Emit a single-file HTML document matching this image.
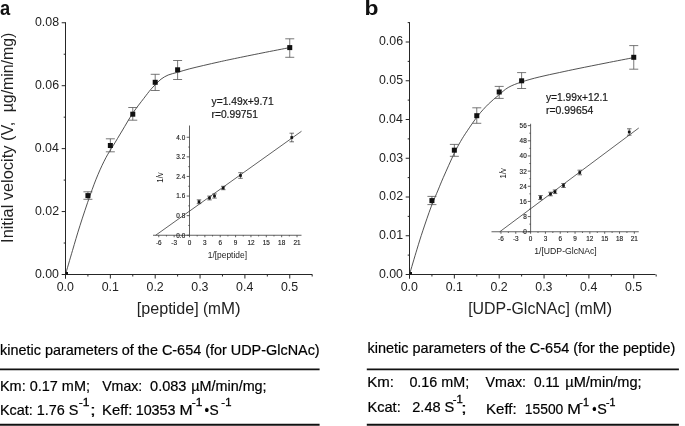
<!DOCTYPE html>
<html lang="en">
<head>
<meta charset="utf-8">
<title>Kinetic parameters of the C-654</title>
<style>
html,body{margin:0;padding:0;background:#fff;}
body{width:685px;height:426px;overflow:hidden;}
svg{display:block;font-family:"Liberation Sans",sans-serif;}
.ax{stroke:#262626;stroke-width:1;fill:none;}
.cv{stroke:#333;stroke-width:0.85;fill:none;}
.eb{stroke:#555;stroke-width:0.8;fill:none;}
.mk{fill:#111;}
.tl{font-size:13.1px;fill:#222;}
.at{font-size:15.7px;fill:#222;}
.yt{font-size:16.3px;fill:#222;}
.pl{font-size:20.3px;font-weight:bold;fill:#111;}
.eq{font-size:10.3px;fill:#1a1a1a;stroke:#1a1a1a;stroke-width:0.2;}
.ia{stroke:#3a3a3a;stroke-width:0.8;fill:none;}
.il{stroke:#383838;stroke-width:0.8;fill:none;}
.ie{stroke:#222;stroke-width:0.65;fill:none;}
.it{font-size:6.4px;fill:#222;stroke:#222;stroke-width:0.15;}
.ix{font-size:8.8px;fill:#1a1a1a;}
.iv{font-size:8.6px;fill:#1a1a1a;}
.bt{font-size:14.4px;fill:#000;stroke:#000;stroke-width:0.2;}
.sup{font-size:10.8px;fill:#000;stroke:#000;stroke-width:0.3;}
.rule{stroke:#111;stroke-width:1.9;}
</style>
</head>
<body>
<svg width="685" height="426" viewBox="0 0 685 426">
<rect x="0" y="0" width="685" height="426" fill="#ffffff"/>

<g id="panel-a">
<text class="pl" x="0.04" y="15" textLength="10.18" lengthAdjust="spacingAndGlyphs">a</text>
<line class="ax" x1="65.5" y1="22.25" x2="65.5" y2="278.5"/>
<line class="ax" x1="65" y1="274.5" x2="312.3" y2="274.5"/>
<line class="ax" x1="61.7" y1="274.5" x2="65.5" y2="274.5"/>
<text class="tl" x="34.88" y="277.8" textLength="24.08" lengthAdjust="spacingAndGlyphs">0.00</text>
<line class="ax" x1="61.7" y1="211.56" x2="65.5" y2="211.56"/>
<text class="tl" x="34.99" y="214.86" textLength="24.08" lengthAdjust="spacingAndGlyphs">0.02</text>
<line class="ax" x1="61.7" y1="148.62" x2="65.5" y2="148.62"/>
<text class="tl" x="34.76" y="151.93" textLength="24.08" lengthAdjust="spacingAndGlyphs">0.04</text>
<line class="ax" x1="61.7" y1="85.69" x2="65.5" y2="85.69"/>
<text class="tl" x="34.99" y="88.99" textLength="24.08" lengthAdjust="spacingAndGlyphs">0.06</text>
<line class="ax" x1="61.7" y1="22.75" x2="65.5" y2="22.75"/>
<text class="tl" x="34.99" y="26.05" textLength="24.08" lengthAdjust="spacingAndGlyphs">0.08</text>
<line class="ax" x1="63.7" y1="243.03" x2="65.5" y2="243.03"/>
<line class="ax" x1="63.7" y1="180.09" x2="65.5" y2="180.09"/>
<line class="ax" x1="63.7" y1="117.16" x2="65.5" y2="117.16"/>
<line class="ax" x1="63.7" y1="54.22" x2="65.5" y2="54.22"/>
<line class="ax" x1="65.5" y1="274.5" x2="65.5" y2="278.5"/>
<text class="tl" x="56.74" y="290.5" textLength="17.2" lengthAdjust="spacingAndGlyphs">0.0</text>
<line class="ax" x1="110.35" y1="274.5" x2="110.35" y2="278.5"/>
<text class="tl" x="101.64" y="290.5" textLength="17.2" lengthAdjust="spacingAndGlyphs">0.1</text>
<line class="ax" x1="155.2" y1="274.5" x2="155.2" y2="278.5"/>
<text class="tl" x="146.5" y="290.5" textLength="17.2" lengthAdjust="spacingAndGlyphs">0.2</text>
<line class="ax" x1="200.05" y1="274.5" x2="200.05" y2="278.5"/>
<text class="tl" x="191.29" y="290.5" textLength="17.2" lengthAdjust="spacingAndGlyphs">0.3</text>
<line class="ax" x1="244.9" y1="274.5" x2="244.9" y2="278.5"/>
<text class="tl" x="236.08" y="290.5" textLength="17.2" lengthAdjust="spacingAndGlyphs">0.4</text>
<line class="ax" x1="289.75" y1="274.5" x2="289.75" y2="278.5"/>
<text class="tl" x="280.99" y="290.5" textLength="17.2" lengthAdjust="spacingAndGlyphs">0.5</text>
<line class="ax" x1="87.92" y1="274.5" x2="87.92" y2="276.5"/>
<line class="ax" x1="132.78" y1="274.5" x2="132.78" y2="276.5"/>
<line class="ax" x1="177.62" y1="274.5" x2="177.62" y2="276.5"/>
<line class="ax" x1="222.47" y1="274.5" x2="222.47" y2="276.5"/>
<line class="ax" x1="267.33" y1="274.5" x2="267.33" y2="276.5"/>
<line class="ax" x1="312.18" y1="274.5" x2="312.18" y2="276.5"/>
<path class="cv" d="M65.5 274.5C66.67 270.5 70.08 258.67 72.5 250.5C74.92 242.33 77.08 234.65 80 225.5C82.92 216.35 87 204.1 90 195.6C93 187.1 95.33 180.85 98 174.5C100.67 168.15 103.45 162.33 106 157.5C108.55 152.67 110.63 149.92 113.3 145.5C115.97 141.08 118.73 136.42 122 131C125.27 125.58 129.27 118.43 132.9 113C136.53 107.57 140.87 102.27 143.8 98.4C146.73 94.53 148.6 92.07 150.5 89.8C152.4 87.53 153.45 86.57 155.2 84.8C156.95 83.03 158.83 80.83 161 79.2C163.17 77.57 165.43 76.15 168.2 75C170.97 73.85 174.08 73.32 177.6 72.3C181.12 71.28 185 70.03 189.3 68.9C193.6 67.77 198.35 66.68 203.4 65.5C208.45 64.32 214.42 62.95 219.6 61.8C224.78 60.65 227.43 60.07 234.5 58.6C241.57 57.13 252.8 54.83 262 53C271.2 51.17 285.08 48.5 289.7 47.6"/>
<line class="eb" x1="87.92" y1="191.8" x2="87.92" y2="199.3"/>
<line class="eb" x1="83.42" y1="191.8" x2="92.42" y2="191.8"/>
<line class="eb" x1="83.42" y1="199.3" x2="92.42" y2="199.3"/>
<line class="eb" x1="110.35" y1="138.8" x2="110.35" y2="151.8"/>
<line class="eb" x1="105.85" y1="138.8" x2="114.85" y2="138.8"/>
<line class="eb" x1="105.85" y1="151.8" x2="114.85" y2="151.8"/>
<line class="eb" x1="132.78" y1="107.5" x2="132.78" y2="120.2"/>
<line class="eb" x1="128.28" y1="107.5" x2="137.28" y2="107.5"/>
<line class="eb" x1="128.28" y1="120.2" x2="137.28" y2="120.2"/>
<line class="eb" x1="155.2" y1="74.3" x2="155.2" y2="90.5"/>
<line class="eb" x1="150.7" y1="74.3" x2="159.7" y2="74.3"/>
<line class="eb" x1="150.7" y1="90.5" x2="159.7" y2="90.5"/>
<line class="eb" x1="177.62" y1="60.5" x2="177.62" y2="79.5"/>
<line class="eb" x1="173.12" y1="60.5" x2="182.12" y2="60.5"/>
<line class="eb" x1="173.12" y1="79.5" x2="182.12" y2="79.5"/>
<line class="eb" x1="289.75" y1="38.8" x2="289.75" y2="57.3"/>
<line class="eb" x1="285.25" y1="38.8" x2="294.25" y2="38.8"/>
<line class="eb" x1="285.25" y1="57.3" x2="294.25" y2="57.3"/>
<rect class="mk" x="85.42" y="193.1" width="5" height="5"/>
<rect class="mk" x="107.85" y="143" width="5" height="5"/>
<rect class="mk" x="130.28" y="111.7" width="5" height="5"/>
<rect class="mk" x="152.7" y="79.8" width="5" height="5"/>
<rect class="mk" x="175.12" y="67.3" width="5" height="5"/>
<rect class="mk" x="287.25" y="45.1" width="5" height="5"/>
<rect class="mk" x="65.5" y="272" width="2.5" height="2.5"/>
<text class="at" x="136.74" y="314.3" textLength="61.88" lengthAdjust="spacingAndGlyphs">[peptide]</text>
<text class="at" x="202.92" y="314.3" textLength="18.02" lengthAdjust="spacingAndGlyphs">(m</text>
<text class="at" x="220.96" y="314.3" textLength="19.63" lengthAdjust="spacingAndGlyphs">M)</text>
<text class="yt" transform="translate(13.3 242.91) rotate(-90)" textLength="121.25" lengthAdjust="spacingAndGlyphs">Initial velocity (V,</text>
<text class="yt" transform="translate(13.3 112.29) rotate(-90)" textLength="79.58" lengthAdjust="spacingAndGlyphs">µg/min/mg)</text>
<text class="eq" x="211.5" y="104.8" textLength="62.3" lengthAdjust="spacingAndGlyphs">y=1.49x+9.71</text>
<text class="eq" x="211.5" y="118" textLength="46.5" lengthAdjust="spacingAndGlyphs">r=0.99751</text>
<line class="ia" x1="189.5" y1="125.5" x2="189.5" y2="235.25"/>
<line class="ia" x1="153" y1="235.25" x2="301.5" y2="235.25"/>
<line class="ia" x1="186.7" y1="235.25" x2="189.5" y2="235.25"/>
<text class="it" x="185.2" y="237.65" text-anchor="end">0.0</text>
<line class="ia" x1="186.7" y1="215.65" x2="189.5" y2="215.65"/>
<text class="it" x="185.2" y="218.05" text-anchor="end">0.8</text>
<line class="ia" x1="186.7" y1="196.05" x2="189.5" y2="196.05"/>
<text class="it" x="185.2" y="198.45" text-anchor="end">1.6</text>
<line class="ia" x1="186.7" y1="176.45" x2="189.5" y2="176.45"/>
<text class="it" x="185.2" y="178.85" text-anchor="end">2.4</text>
<line class="ia" x1="186.7" y1="156.85" x2="189.5" y2="156.85"/>
<text class="it" x="185.2" y="159.25" text-anchor="end">3.2</text>
<line class="ia" x1="186.7" y1="137.25" x2="189.5" y2="137.25"/>
<text class="it" x="185.2" y="139.65" text-anchor="end">4.0</text>
<line class="ia" x1="188.3" y1="225.45" x2="189.5" y2="225.45"/>
<line class="ia" x1="188.3" y1="205.85" x2="189.5" y2="205.85"/>
<line class="ia" x1="188.3" y1="186.25" x2="189.5" y2="186.25"/>
<line class="ia" x1="188.3" y1="166.65" x2="189.5" y2="166.65"/>
<line class="ia" x1="188.3" y1="147.05" x2="189.5" y2="147.05"/>
<line class="ia" x1="158.78" y1="235.25" x2="158.78" y2="237.25"/>
<text class="it" x="158.78" y="244.95" text-anchor="middle">-6</text>
<line class="ia" x1="174.14" y1="235.25" x2="174.14" y2="237.25"/>
<text class="it" x="174.14" y="244.95" text-anchor="middle">-3</text>
<line class="ia" x1="189.5" y1="235.25" x2="189.5" y2="237.25"/>
<text class="it" x="189.5" y="244.95" text-anchor="middle">0</text>
<line class="ia" x1="204.86" y1="235.25" x2="204.86" y2="237.25"/>
<text class="it" x="204.86" y="244.95" text-anchor="middle">3</text>
<line class="ia" x1="220.22" y1="235.25" x2="220.22" y2="237.25"/>
<text class="it" x="220.22" y="244.95" text-anchor="middle">6</text>
<line class="ia" x1="235.58" y1="235.25" x2="235.58" y2="237.25"/>
<text class="it" x="235.58" y="244.95" text-anchor="middle">9</text>
<line class="ia" x1="250.94" y1="235.25" x2="250.94" y2="237.25"/>
<text class="it" x="250.94" y="244.95" text-anchor="middle">12</text>
<line class="ia" x1="266.3" y1="235.25" x2="266.3" y2="237.25"/>
<text class="it" x="266.3" y="244.95" text-anchor="middle">15</text>
<line class="ia" x1="281.66" y1="235.25" x2="281.66" y2="237.25"/>
<text class="it" x="281.66" y="244.95" text-anchor="middle">18</text>
<line class="ia" x1="297.02" y1="235.25" x2="297.02" y2="237.25"/>
<text class="it" x="297.02" y="244.95" text-anchor="middle">21</text>
<line class="ia" x1="166.46" y1="235.25" x2="166.46" y2="236.45"/>
<line class="ia" x1="181.82" y1="235.25" x2="181.82" y2="236.45"/>
<line class="ia" x1="197.18" y1="235.25" x2="197.18" y2="236.45"/>
<line class="ia" x1="212.54" y1="235.25" x2="212.54" y2="236.45"/>
<line class="ia" x1="227.9" y1="235.25" x2="227.9" y2="236.45"/>
<line class="ia" x1="243.26" y1="235.25" x2="243.26" y2="236.45"/>
<line class="ia" x1="258.62" y1="235.25" x2="258.62" y2="236.45"/>
<line class="ia" x1="273.98" y1="235.25" x2="273.98" y2="236.45"/>
<line class="ia" x1="289.34" y1="235.25" x2="289.34" y2="236.45"/>
<line class="il" x1="155.7" y1="235.25" x2="301.5" y2="131.25"/>
<line class="ie" x1="199" y1="199.85" x2="199" y2="203.65"/>
<line class="ie" x1="196.75" y1="199.85" x2="201.25" y2="199.85"/>
<line class="ie" x1="196.75" y1="203.65" x2="201.25" y2="203.65"/>
<rect class="mk" x="197.65" y="200.4" width="2.7" height="2.7"/>
<line class="ie" x1="209.5" y1="196.1" x2="209.5" y2="199.9"/>
<line class="ie" x1="207.25" y1="196.1" x2="211.75" y2="196.1"/>
<line class="ie" x1="207.25" y1="199.9" x2="211.75" y2="199.9"/>
<rect class="mk" x="208.15" y="196.65" width="2.7" height="2.7"/>
<line class="ie" x1="214.5" y1="193.9" x2="214.5" y2="198.1"/>
<line class="ie" x1="212.25" y1="193.9" x2="216.75" y2="193.9"/>
<line class="ie" x1="212.25" y1="198.1" x2="216.75" y2="198.1"/>
<rect class="mk" x="213.15" y="194.65" width="2.7" height="2.7"/>
<line class="ie" x1="223.25" y1="186.3" x2="223.25" y2="189.7"/>
<line class="ie" x1="221" y1="186.3" x2="225.5" y2="186.3"/>
<line class="ie" x1="221" y1="189.7" x2="225.5" y2="189.7"/>
<rect class="mk" x="221.9" y="186.65" width="2.7" height="2.7"/>
<line class="ie" x1="240.5" y1="172.7" x2="240.5" y2="178.3"/>
<line class="ie" x1="238.25" y1="172.7" x2="242.75" y2="172.7"/>
<line class="ie" x1="238.25" y1="178.3" x2="242.75" y2="178.3"/>
<rect class="mk" x="239.15" y="174.15" width="2.7" height="2.7"/>
<line class="ie" x1="291.75" y1="133.2" x2="291.75" y2="141.8"/>
<line class="ie" x1="289.5" y1="133.2" x2="294" y2="133.2"/>
<line class="ie" x1="289.5" y1="141.8" x2="294" y2="141.8"/>
<rect class="mk" x="290.4" y="136.15" width="2.7" height="2.7"/>
<text class="ix" x="207.75" y="258" textLength="39.25" lengthAdjust="spacingAndGlyphs">1/[peptide]</text>
<text class="iv" transform="translate(163.2 177.5) rotate(-90)" text-anchor="middle" textLength="10.4" lengthAdjust="spacingAndGlyphs">1/v</text>
</g>
<g id="panel-b">
<text class="pl" x="364.45" y="15.1" textLength="13.95" lengthAdjust="spacingAndGlyphs">b</text>
<line class="ax" x1="409.5" y1="22.12" x2="409.5" y2="278.5"/>
<line class="ax" x1="409" y1="274.5" x2="655.5" y2="274.5"/>
<line class="ax" x1="405.7" y1="274.5" x2="409.5" y2="274.5"/>
<text class="tl" x="378.88" y="277.8" textLength="24.08" lengthAdjust="spacingAndGlyphs">0.00</text>
<line class="ax" x1="405.7" y1="235.75" x2="409.5" y2="235.75"/>
<text class="tl" x="378.99" y="239.05" textLength="24.08" lengthAdjust="spacingAndGlyphs">0.01</text>
<line class="ax" x1="405.7" y1="197" x2="409.5" y2="197"/>
<text class="tl" x="378.99" y="200.3" textLength="24.08" lengthAdjust="spacingAndGlyphs">0.02</text>
<line class="ax" x1="405.7" y1="158.25" x2="409.5" y2="158.25"/>
<text class="tl" x="378.99" y="161.55" textLength="24.08" lengthAdjust="spacingAndGlyphs">0.03</text>
<line class="ax" x1="405.7" y1="119.5" x2="409.5" y2="119.5"/>
<text class="tl" x="378.76" y="122.8" textLength="24.08" lengthAdjust="spacingAndGlyphs">0.04</text>
<line class="ax" x1="405.7" y1="80.75" x2="409.5" y2="80.75"/>
<text class="tl" x="378.99" y="84.05" textLength="24.08" lengthAdjust="spacingAndGlyphs">0.05</text>
<line class="ax" x1="405.7" y1="42" x2="409.5" y2="42"/>
<text class="tl" x="378.99" y="45.3" textLength="24.08" lengthAdjust="spacingAndGlyphs">0.06</text>
<line class="ax" x1="407.7" y1="255.12" x2="409.5" y2="255.12"/>
<line class="ax" x1="407.7" y1="216.38" x2="409.5" y2="216.38"/>
<line class="ax" x1="407.7" y1="177.62" x2="409.5" y2="177.62"/>
<line class="ax" x1="407.7" y1="138.88" x2="409.5" y2="138.88"/>
<line class="ax" x1="407.7" y1="100.12" x2="409.5" y2="100.12"/>
<line class="ax" x1="407.7" y1="61.38" x2="409.5" y2="61.38"/>
<line class="ax" x1="407.7" y1="22.62" x2="409.5" y2="22.62"/>
<line class="ax" x1="409.5" y1="274.5" x2="409.5" y2="278.5"/>
<text class="tl" x="400.74" y="290.5" textLength="17.2" lengthAdjust="spacingAndGlyphs">0.0</text>
<line class="ax" x1="454.35" y1="274.5" x2="454.35" y2="278.5"/>
<text class="tl" x="445.65" y="290.5" textLength="17.2" lengthAdjust="spacingAndGlyphs">0.1</text>
<line class="ax" x1="499.2" y1="274.5" x2="499.2" y2="278.5"/>
<text class="tl" x="490.5" y="290.5" textLength="17.2" lengthAdjust="spacingAndGlyphs">0.2</text>
<line class="ax" x1="544.05" y1="274.5" x2="544.05" y2="278.5"/>
<text class="tl" x="535.29" y="290.5" textLength="17.2" lengthAdjust="spacingAndGlyphs">0.3</text>
<line class="ax" x1="588.9" y1="274.5" x2="588.9" y2="278.5"/>
<text class="tl" x="580.08" y="290.5" textLength="17.2" lengthAdjust="spacingAndGlyphs">0.4</text>
<line class="ax" x1="633.75" y1="274.5" x2="633.75" y2="278.5"/>
<text class="tl" x="624.99" y="290.5" textLength="17.2" lengthAdjust="spacingAndGlyphs">0.5</text>
<line class="ax" x1="431.93" y1="274.5" x2="431.93" y2="276.5"/>
<line class="ax" x1="476.77" y1="274.5" x2="476.77" y2="276.5"/>
<line class="ax" x1="521.62" y1="274.5" x2="521.62" y2="276.5"/>
<line class="ax" x1="566.48" y1="274.5" x2="566.48" y2="276.5"/>
<line class="ax" x1="611.33" y1="274.5" x2="611.33" y2="276.5"/>
<line class="ax" x1="656.17" y1="274.5" x2="656.17" y2="276.5"/>
<path class="cv" d="M409.5 274.5C410.75 270.28 414.78 256.48 417 249.2C419.22 241.92 420.45 237.85 422.8 230.8C425.15 223.75 428.55 213.7 431.1 206.9C433.65 200.1 436.05 194.93 438.1 190C440.15 185.07 440.72 183.4 443.4 177.3C446.08 171.2 451.33 159.38 454.2 153.4C457.07 147.42 458.42 145.17 460.6 141.4C462.78 137.63 464.37 135.13 467.3 130.8C470.23 126.47 474.68 119.85 478.2 115.4C481.72 110.95 485 107.47 488.4 104.1C491.8 100.73 495.3 97.97 498.6 95.2C501.9 92.43 504.38 89.7 508.2 87.5C512.02 85.3 516.33 83.75 521.5 82C526.67 80.25 532.85 78.58 539.2 77C545.55 75.42 553.13 73.9 559.6 72.5C566.07 71.1 570.27 70.18 578 68.6C585.73 67.02 596.71 64.83 606 63C615.29 61.17 629.12 58.5 633.75 57.6"/>
<line class="eb" x1="431.93" y1="196.4" x2="431.93" y2="204.6"/>
<line class="eb" x1="427.43" y1="196.4" x2="436.43" y2="196.4"/>
<line class="eb" x1="427.43" y1="204.6" x2="436.43" y2="204.6"/>
<line class="eb" x1="454.35" y1="144.4" x2="454.35" y2="156.3"/>
<line class="eb" x1="449.85" y1="144.4" x2="458.85" y2="144.4"/>
<line class="eb" x1="449.85" y1="156.3" x2="458.85" y2="156.3"/>
<line class="eb" x1="476.77" y1="107.8" x2="476.77" y2="123.3"/>
<line class="eb" x1="472.27" y1="107.8" x2="481.27" y2="107.8"/>
<line class="eb" x1="472.27" y1="123.3" x2="481.27" y2="123.3"/>
<line class="eb" x1="499.2" y1="86.4" x2="499.2" y2="98.4"/>
<line class="eb" x1="494.7" y1="86.4" x2="503.7" y2="86.4"/>
<line class="eb" x1="494.7" y1="98.4" x2="503.7" y2="98.4"/>
<line class="eb" x1="521.62" y1="72.6" x2="521.62" y2="88.5"/>
<line class="eb" x1="517.12" y1="72.6" x2="526.12" y2="72.6"/>
<line class="eb" x1="517.12" y1="88.5" x2="526.12" y2="88.5"/>
<line class="eb" x1="633.75" y1="45.6" x2="633.75" y2="69.2"/>
<line class="eb" x1="629.25" y1="45.6" x2="638.25" y2="45.6"/>
<line class="eb" x1="629.25" y1="69.2" x2="638.25" y2="69.2"/>
<rect class="mk" x="429.43" y="198.1" width="5" height="5"/>
<rect class="mk" x="451.85" y="147.7" width="5" height="5"/>
<rect class="mk" x="474.27" y="113.2" width="5" height="5"/>
<rect class="mk" x="496.7" y="89.5" width="5" height="5"/>
<rect class="mk" x="519.12" y="78.3" width="5" height="5"/>
<rect class="mk" x="631.25" y="54.8" width="5" height="5"/>
<rect class="mk" x="409.5" y="272" width="2.5" height="2.5"/>
<text class="at" x="468.16" y="314.3" textLength="101.67" lengthAdjust="spacingAndGlyphs">[UDP-GlcNAc]</text>
<text class="at" x="574.52" y="314.3" textLength="18.02" lengthAdjust="spacingAndGlyphs">(m</text>
<text class="at" x="592.44" y="314.3" textLength="19.86" lengthAdjust="spacingAndGlyphs">M)</text>
<text class="eq" x="546" y="100.6" textLength="62" lengthAdjust="spacingAndGlyphs">y=1.99x+12.1</text>
<text class="eq" x="546" y="113.7" textLength="47.3" lengthAdjust="spacingAndGlyphs">r=0.99654</text>
<line class="ia" x1="530.6" y1="123.75" x2="530.6" y2="231.75"/>
<line class="ia" x1="491.5" y1="231.75" x2="638.75" y2="231.75"/>
<line class="ia" x1="527.8" y1="231.75" x2="530.6" y2="231.75"/>
<text class="it" x="526.7" y="234.15" text-anchor="end">0</text>
<line class="ia" x1="527.8" y1="216.59" x2="530.6" y2="216.59"/>
<text class="it" x="526.7" y="218.99" text-anchor="end">8</text>
<line class="ia" x1="527.8" y1="201.43" x2="530.6" y2="201.43"/>
<text class="it" x="526.7" y="203.83" text-anchor="end">16</text>
<line class="ia" x1="527.8" y1="186.27" x2="530.6" y2="186.27"/>
<text class="it" x="526.7" y="188.67" text-anchor="end">24</text>
<line class="ia" x1="527.8" y1="171.11" x2="530.6" y2="171.11"/>
<text class="it" x="526.7" y="173.51" text-anchor="end">32</text>
<line class="ia" x1="527.8" y1="155.95" x2="530.6" y2="155.95"/>
<text class="it" x="526.7" y="158.35" text-anchor="end">40</text>
<line class="ia" x1="527.8" y1="140.79" x2="530.6" y2="140.79"/>
<text class="it" x="526.7" y="143.19" text-anchor="end">48</text>
<line class="ia" x1="527.8" y1="125.63" x2="530.6" y2="125.63"/>
<text class="it" x="526.7" y="128.03" text-anchor="end">56</text>
<line class="ia" x1="529.4" y1="224.17" x2="530.6" y2="224.17"/>
<line class="ia" x1="529.4" y1="209.01" x2="530.6" y2="209.01"/>
<line class="ia" x1="529.4" y1="193.85" x2="530.6" y2="193.85"/>
<line class="ia" x1="529.4" y1="178.69" x2="530.6" y2="178.69"/>
<line class="ia" x1="529.4" y1="163.53" x2="530.6" y2="163.53"/>
<line class="ia" x1="529.4" y1="148.37" x2="530.6" y2="148.37"/>
<line class="ia" x1="529.4" y1="133.21" x2="530.6" y2="133.21"/>
<line class="ia" x1="500.96" y1="231.75" x2="500.96" y2="233.75"/>
<text class="it" x="500.96" y="241.45" text-anchor="middle">-6</text>
<line class="ia" x1="515.78" y1="231.75" x2="515.78" y2="233.75"/>
<text class="it" x="515.78" y="241.45" text-anchor="middle">-3</text>
<line class="ia" x1="530.6" y1="231.75" x2="530.6" y2="233.75"/>
<text class="it" x="530.6" y="241.45" text-anchor="middle">0</text>
<line class="ia" x1="545.42" y1="231.75" x2="545.42" y2="233.75"/>
<text class="it" x="545.42" y="241.45" text-anchor="middle">3</text>
<line class="ia" x1="560.24" y1="231.75" x2="560.24" y2="233.75"/>
<text class="it" x="560.24" y="241.45" text-anchor="middle">6</text>
<line class="ia" x1="575.06" y1="231.75" x2="575.06" y2="233.75"/>
<text class="it" x="575.06" y="241.45" text-anchor="middle">9</text>
<line class="ia" x1="589.88" y1="231.75" x2="589.88" y2="233.75"/>
<text class="it" x="589.88" y="241.45" text-anchor="middle">12</text>
<line class="ia" x1="604.7" y1="231.75" x2="604.7" y2="233.75"/>
<text class="it" x="604.7" y="241.45" text-anchor="middle">15</text>
<line class="ia" x1="619.52" y1="231.75" x2="619.52" y2="233.75"/>
<text class="it" x="619.52" y="241.45" text-anchor="middle">18</text>
<line class="ia" x1="634.34" y1="231.75" x2="634.34" y2="233.75"/>
<text class="it" x="634.34" y="241.45" text-anchor="middle">21</text>
<line class="ia" x1="508.37" y1="231.75" x2="508.37" y2="232.95"/>
<line class="ia" x1="523.19" y1="231.75" x2="523.19" y2="232.95"/>
<line class="ia" x1="538.01" y1="231.75" x2="538.01" y2="232.95"/>
<line class="ia" x1="552.83" y1="231.75" x2="552.83" y2="232.95"/>
<line class="ia" x1="567.65" y1="231.75" x2="567.65" y2="232.95"/>
<line class="ia" x1="582.47" y1="231.75" x2="582.47" y2="232.95"/>
<line class="ia" x1="597.29" y1="231.75" x2="597.29" y2="232.95"/>
<line class="ia" x1="612.11" y1="231.75" x2="612.11" y2="232.95"/>
<line class="ia" x1="626.93" y1="231.75" x2="626.93" y2="232.95"/>
<line class="il" x1="499.7" y1="231.8" x2="638.75" y2="128"/>
<line class="ie" x1="540.5" y1="195.5" x2="540.5" y2="199.5"/>
<line class="ie" x1="538.25" y1="195.5" x2="542.75" y2="195.5"/>
<line class="ie" x1="538.25" y1="199.5" x2="542.75" y2="199.5"/>
<rect class="mk" x="539.15" y="196.15" width="2.7" height="2.7"/>
<line class="ie" x1="550.5" y1="192.2" x2="550.5" y2="195.8"/>
<line class="ie" x1="548.25" y1="192.2" x2="552.75" y2="192.2"/>
<line class="ie" x1="548.25" y1="195.8" x2="552.75" y2="195.8"/>
<rect class="mk" x="549.15" y="192.65" width="2.7" height="2.7"/>
<line class="ie" x1="555" y1="189.95" x2="555" y2="193.55"/>
<line class="ie" x1="552.75" y1="189.95" x2="557.25" y2="189.95"/>
<line class="ie" x1="552.75" y1="193.55" x2="557.25" y2="193.55"/>
<rect class="mk" x="553.65" y="190.4" width="2.7" height="2.7"/>
<line class="ie" x1="563.5" y1="183.5" x2="563.5" y2="187.5"/>
<line class="ie" x1="561.25" y1="183.5" x2="565.75" y2="183.5"/>
<line class="ie" x1="561.25" y1="187.5" x2="565.75" y2="187.5"/>
<rect class="mk" x="562.15" y="184.15" width="2.7" height="2.7"/>
<line class="ie" x1="579.75" y1="170.2" x2="579.75" y2="174.8"/>
<line class="ie" x1="577.5" y1="170.2" x2="582" y2="170.2"/>
<line class="ie" x1="577.5" y1="174.8" x2="582" y2="174.8"/>
<rect class="mk" x="578.4" y="171.15" width="2.7" height="2.7"/>
<line class="ie" x1="629.25" y1="128.8" x2="629.25" y2="135.2"/>
<line class="ie" x1="627" y1="128.8" x2="631.5" y2="128.8"/>
<line class="ie" x1="627" y1="135.2" x2="631.5" y2="135.2"/>
<rect class="mk" x="627.9" y="130.65" width="2.7" height="2.7"/>
<text class="ix" x="534.25" y="254" textLength="62.5" lengthAdjust="spacingAndGlyphs">1/[UDP-GlcNAc]</text>
<text class="iv" transform="translate(505.8 173.2) rotate(-90)" text-anchor="middle" textLength="10.4" lengthAdjust="spacingAndGlyphs">1/v</text>
</g>
<g id="table-a">
<text class="bt" x="0.1" y="354.5" textLength="319.57" lengthAdjust="spacingAndGlyphs">kinetic parameters of the C-654 (for UDP-GlcNAc)</text>
<line class="rule" x1="0" y1="369.4" x2="319.6" y2="369.4"/>
<text class="bt" x="-0.03" y="390.9" textLength="89.95" lengthAdjust="spacingAndGlyphs">Km: 0.17 mM;</text>
<text class="bt" x="102.18" y="390.9" textLength="40.1" lengthAdjust="spacingAndGlyphs">Vmax:</text>
<text class="bt" x="150.07" y="390.9" textLength="36.38" lengthAdjust="spacingAndGlyphs">0.083</text>
<text class="bt" x="191.2" y="390.9" textLength="75.43" lengthAdjust="spacingAndGlyphs">µM/min/mg;</text>
<text class="bt" x="-0.03" y="415.3" textLength="78.48" lengthAdjust="spacingAndGlyphs">Kcat: 1.76 S</text>
<text class="sup" x="78.84" y="406.2" textLength="10.7" lengthAdjust="spacingAndGlyphs">-1</text>
<text class="bt" x="89.9" y="415.3" textLength="5.82" lengthAdjust="spacingAndGlyphs">;</text>
<text class="bt" x="102.14" y="415.3" textLength="30.24" lengthAdjust="spacingAndGlyphs">Keff:</text>
<text class="bt" x="135.68" y="415.3" textLength="39.87" lengthAdjust="spacingAndGlyphs">10353</text>
<text class="bt" x="179.57" y="415.3" textLength="13.09" lengthAdjust="spacingAndGlyphs">M</text>
<text class="sup" x="191.85" y="406.2" textLength="10.58" lengthAdjust="spacingAndGlyphs">-1</text>
<text class="bt" x="204.44" y="415.3" textLength="4.56" lengthAdjust="spacingAndGlyphs">•</text>
<text class="bt" x="209.5" y="415.3" textLength="9.2" lengthAdjust="spacingAndGlyphs">S</text>
<text class="sup" x="221.38" y="406.2" textLength="10.03" lengthAdjust="spacingAndGlyphs">-1</text>
<line class="rule" x1="0" y1="424.8" x2="319.6" y2="424.8"/>
</g>
<g id="table-b">
<text class="bt" x="367.6" y="353" textLength="307.67" lengthAdjust="spacingAndGlyphs">kinetic parameters of the C-654 (for the peptide)</text>
<line class="rule" x1="366.8" y1="369.4" x2="678.9" y2="369.4"/>
<text class="bt" x="367.22" y="387.1" textLength="26.78" lengthAdjust="spacingAndGlyphs">Km:</text>
<text class="bt" x="409.38" y="387.1" textLength="59.78" lengthAdjust="spacingAndGlyphs">0.16 mM;</text>
<text class="bt" x="485.58" y="387.1" textLength="40.41" lengthAdjust="spacingAndGlyphs">Vmax:</text>
<text class="bt" x="534" y="387.1" textLength="25.66" lengthAdjust="spacingAndGlyphs">0.11</text>
<text class="bt" x="565.29" y="387.1" textLength="76.36" lengthAdjust="spacingAndGlyphs">µM/min/mg;</text>
<text class="bt" x="367.46" y="412.3" textLength="33.26" lengthAdjust="spacingAndGlyphs">Kcat:</text>
<text class="bt" x="412.24" y="411.6" textLength="42.1" lengthAdjust="spacingAndGlyphs">2.48 S</text>
<text class="sup" x="452.78" y="403.4" textLength="10.03" lengthAdjust="spacingAndGlyphs">-1</text>
<text class="bt" x="461" y="412.5" textLength="5.82" lengthAdjust="spacingAndGlyphs">;</text>
<text class="bt" x="486.02" y="414.4" textLength="30.68" lengthAdjust="spacingAndGlyphs">Keff:</text>
<text class="bt" x="524.82" y="414.4" textLength="38.49" lengthAdjust="spacingAndGlyphs">15500</text>
<text class="bt" x="567.23" y="414.4" textLength="13.59" lengthAdjust="spacingAndGlyphs">M</text>
<text class="sup" x="579.3" y="405.7" textLength="9.58" lengthAdjust="spacingAndGlyphs">-1</text>
<text class="bt" x="592.27" y="414.4" textLength="4.3" lengthAdjust="spacingAndGlyphs">•</text>
<text class="bt" x="597.18" y="414.4" textLength="9.55" lengthAdjust="spacingAndGlyphs">S</text>
<text class="sup" x="605.91" y="405.7" textLength="9.47" lengthAdjust="spacingAndGlyphs">-1</text>
<line class="rule" x1="366.8" y1="424.8" x2="678.9" y2="424.8"/>
</g>
</svg>
</body>
</html>
